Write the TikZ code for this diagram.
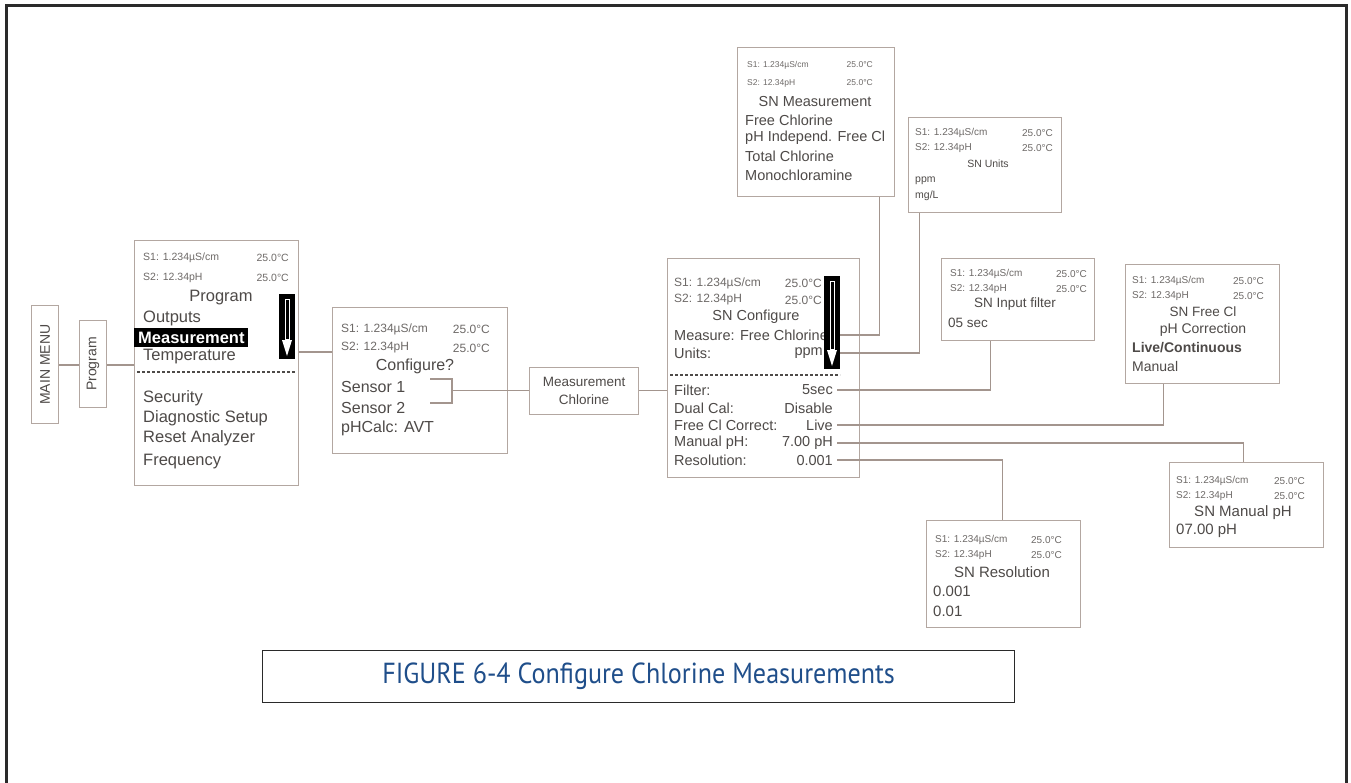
\documentclass[tikz,border=0pt]{standalone}
\usepackage{fontspec}
\usepackage{graphicx}
\setmainfont{Liberation Sans}
\newfontfamily\capfont{PT Sans}
\usetikzlibrary{calc}
\definecolor{boxc}{HTML}{B3A7A1}
\definecolor{linec}{HTML}{A3958E}
\definecolor{txtc}{HTML}{4E4A48}
\definecolor{stc}{HTML}{6E6A68}
\definecolor{capc}{HTML}{1F4E8A}
\definecolor{framec}{HTML}{2A2A2A}
\newcommand{\fs}[1]{\fontsize{#1}{#1}\selectfont}
\newcommand{\statl}[6]{%
  \node[stx,anchor=west,font=\fs{#1}] (#2Sa) at (#3,#5) {S1: 1.234µS/cm};
  \node[stx,anchor=east,font=\fs{#1}] (#2Ta) at (#4,#5) {25.0°C};
  \node[stx,anchor=west,font=\fs{#1}] (#2Sb) at (#3,#6) {S2: 12.34pH};
  \node[stx,anchor=east,font=\fs{#1}] (#2Tb) at (#4,#6) {25.0°C};}
\newcommand{\scrollarrow}[5]{%
  \fill[black] (#1,#2) rectangle (#3,#4);
  \draw[white,line width=0.9] ({(#1+#3)/2-2},{#2+5}) rectangle ({(#1+#3)/2+2},{#4-20});
  \fill[white] ({(#1+#3)/2-5},{#4-19}) -- ({(#1+#3)/2+5},{#4-19}) -- ({(#1+#3)/2},{#4-3}) -- cycle;
  \coordinate (#5) at (#3,{(#2+#4)/2});}
\begin{document}
\begin{tikzpicture}[x=1pt,y=-1pt,
  scr/.style={draw=boxc,line width=1.2,fill=white,inner sep=0,anchor=north west},
  conn/.style={draw=linec,line width=1.1},
  tx/.style={text=txtc,inner sep=0},
  stx/.style={text=stc,inner sep=0},
  dsh/.style={draw=txtc,line width=1.3,dash pattern=on 3pt off 2pt}]
\useasboundingbox (0,0) rectangle (1351,782);
% frame
\draw[framec,line width=3] (6.5,800) -- (6.5,5.5) -- (1346.5,5.5) -- (1346.5,800);

% ---------- boxes ----------
\node[scr,minimum width=27,minimum height=118] (mm) at (31,305) {};
\node[tx,rotate=90,font=\fs{14}] (mmt) at (mm.center) {MAIN MENU};
\node[scr,minimum width=27,minimum height=87] (pg) at (79,320) {};
\node[tx,rotate=90,font=\fs{14}] (pgt) at (pg.center) {Program};
\node[scr,minimum width=164,minimum height=245] (prog) at (134,240) {};
\node[scr,minimum width=175,minimum height=146] (cfg) at (332,307) {};
\node[scr,minimum width=109,minimum height=47] (mch) at (529,367) {};
\node[scr,minimum width=192,minimum height=219] (snc) at (667,258) {};
\node[scr,minimum width=157,minimum height=149] (snm) at (737,47) {};
\node[scr,minimum width=153,minimum height=95] (snu) at (908,117) {};
\node[scr,minimum width=153,minimum height=82] (snf) at (941,258) {};
\node[scr,minimum width=154,minimum height=119] (sfc) at (1125,264) {};
\node[scr,minimum width=154,minimum height=85] (smp) at (1169,462) {};
\node[scr,minimum width=154,minimum height=107] (srs) at (926,520) {};

% ---------- Program screen ----------
\statl{10.5}{p}{143}{289}{258}{278}
\node[tx,font=\fs{16.5}] (pt) at (221,298) {Program};
\node[tx,anchor=west,font=\fs{16.5}] (p1) at (143,318) {Outputs};
\fill[black] (134,328) rectangle (248,347);
\node[anchor=west,inner sep=0,text=white,font=\fs{16.5}\bfseries] (p2) at (138,337.5) {Measurement};
\node[tx,anchor=west,font=\fs{16.5}] (p3) at (143,357) {Temperature};
\draw[dsh] (137,372) -- (296,372);
\node[tx,anchor=west,font=\fs{16.5}] (p4) at (143,398) {Security};
\node[tx,anchor=west,font=\fs{16.5}] (p5) at (143,418) {Diagnostic Setup};
\node[tx,anchor=west,font=\fs{16.5}] (p6) at (143,438) {Reset Analyzer};
\node[tx,anchor=west,font=\fs{16.5}] (p7) at (143,462) {Frequency};
\scrollarrow{279}{294}{295}{359}{arrP}

% ---------- Configure ----------
\statl{12}{c}{341}{490}{329}{348}
\node[tx,font=\fs{16}] (ct) at (415,366) {Configure?};
\node[tx,anchor=west,font=\fs{16}] (c1) at (341,387) {Sensor 1};
\node[tx,anchor=west,font=\fs{16}] (c2) at (341,408) {Sensor 2};
\node[tx,anchor=west,font=\fs{16}] (c3) at (341,428) {pHCalc: AVT};
\coordinate (brk) at (452,390.5);
\coordinate (b1) at (430,379);
\coordinate (b2) at (430,403);

% ---------- Measurement Chlorine ----------
\node[tx,font=\fs{13.5},align=center] (mct) at (mch.center) {Measurement\\[4pt]Chlorine};

% ---------- SN Configure ----------
\statl{12}{s}{674}{822}{283}{300}
\node[tx,font=\fs{14.5}] (st) at (756,317) {SN Configure};
\node[tx,anchor=west,font=\fs{14.5}] (s1) at (674,335) {Measure: Free Chlorine};
\node[tx,anchor=west,font=\fs{14.5}] (s2) at (674,353) {Units:};
\node[tx,anchor=east,font=\fs{14.5}] (s2v) at (823,353) {ppm};
\draw[dsh] (670,375) -- (840,375);
\node[tx,anchor=west,font=\fs{14.5}] (s3) at (674,390) {Filter:};
\node[tx,anchor=east,font=\fs{14.5}] (s3v) at (833,390) {5sec};
\node[tx,anchor=west,font=\fs{14.5}] (s4) at (674,408) {Dual Cal:};
\node[tx,anchor=east,font=\fs{14.5}] (s4v) at (833,408) {Disable};
\node[tx,anchor=west,font=\fs{14.5}] (s5) at (674,425) {Free Cl Correct:};
\node[tx,anchor=east,font=\fs{14.5}] (s5v) at (833,425) {Live};
\node[tx,anchor=west,font=\fs{14.5}] (s6) at (674,443) {Manual pH:};
\node[tx,anchor=east,font=\fs{14.5}] (s6v) at (833,443) {7.00 pH};
\node[tx,anchor=west,font=\fs{14.5}] (s7) at (674,460) {Resolution:};
\node[tx,anchor=east,font=\fs{14.5}] (s7v) at (833,460) {0.001};

% ---------- SN Measurement ----------
\statl{8.5}{m}{747}{873}{65}{83}
\node[tx,font=\fs{14.5}] (mt) at (815,102) {SN Measurement};
\node[tx,anchor=west,font=\fs{14.5}] (m1) at (745,120) {Free Chlorine};
\node[tx,anchor=west,font=\fs{14.5}] (m2) at (745,138) {pH Independ. Free Cl};
\node[tx,anchor=west,font=\fs{14.5}] (m3) at (745,156) {Total Chlorine};
\node[tx,anchor=west,font=\fs{14.5}] (m4) at (745,175) {Monochloramine};

% ---------- SN Units ----------
\statl{10}{u}{915}{1053}{133}{148}
\node[tx,font=\fs{10.5}] (ut) at (988,164) {SN Units};
\node[tx,anchor=west,font=\fs{10.5}] (u1) at (915,181) {ppm};
\node[tx,anchor=west,font=\fs{10.5}] (u2) at (915,196) {mg/L};

% ---------- SN Input filter ----------
\statl{10}{f}{950}{1087}{274}{289}
\node[tx,font=\fs{13.5}] (ft) at (1015,304) {SN Input filter};
\node[tx,anchor=west,font=\fs{13.5}] (f1) at (948,323) {05 sec};

% ---------- SN Free Cl ----------
\statl{10}{l}{1132}{1264}{281}{296}
\node[tx,font=\fs{13.5}] (lt) at (1203,312) {SN Free Cl};
\node[tx,font=\fs{14}] (l1) at (1203,330) {pH Correction};
\node[tx,anchor=west,font=\fs{14}\bfseries] (l2) at (1132,348) {Live/Continuous};
\node[tx,anchor=west,font=\fs{14}] (l3) at (1132,366) {Manual};

% ---------- SN Manual pH ----------
\statl{10}{h}{1176}{1305}{481}{496}
\node[tx,font=\fs{15}] (ht) at (1243,513) {SN Manual pH};
\node[tx,anchor=west,font=\fs{15}] (h1) at (1176,531) {07.00 pH};

% ---------- SN Resolution ----------
\statl{10}{r}{935}{1062}{540}{555}
\node[tx,font=\fs{15}] (rt) at (1002,572) {SN Resolution};
\node[tx,anchor=west,font=\fs{15}] (r1) at (933,591) {0.001};
\node[tx,anchor=west,font=\fs{15}] (r2) at (933,611) {0.01};

% ---------- connectors ----------
\draw[conn] (mm.east |- 0,365) -- (pg.west |- 0,365);
\draw[conn] (pg.east |- 0,365) -- (prog.west |- 0,365);
\draw[conn] (prog.east |- 0,352) -- (cfg.west |- 0,352);
\draw[conn] (b1) -| (brk) |- (b2);
\draw[conn] (brk) -- (mch.west |- brk);
\draw[conn] (mch.east |- brk) -- (snc.west |- brk);
\draw[conn] ([xshift=3pt]s2v.east) -| ([xshift=-65.5pt]snu.south);
\scrollarrow{824}{276}{840}{369}{arrS}
\draw[conn] (arrS |- s1) -| ([xshift=63.5pt]snm.south);
\draw[conn] ([xshift=4pt]s3v.east) -| ([xshift=-27.5pt]snf.south);
\draw[conn] ([xshift=4pt]s5v.east) -| ([xshift=-39pt]sfc.south);
\draw[conn] ([xshift=4pt]s6v.east) -| ([xshift=-3pt]smp.north);
\draw[conn] ([xshift=4pt]s7v.east) -| ([xshift=-1pt]srs.north);

% ---------- caption ----------
\node[draw=framec,line width=1.2,minimum width=752,minimum height=52,inner sep=0,anchor=north west] (cap) at (262,650) {};
\node[text=capc,inner sep=0] (capt) at (cap.center) {\scalebox{0.9}[1]{\capfont\fs{29}FIGURE 6-4 Configure Chlorine Measurements}};
\end{tikzpicture}
\end{document}
